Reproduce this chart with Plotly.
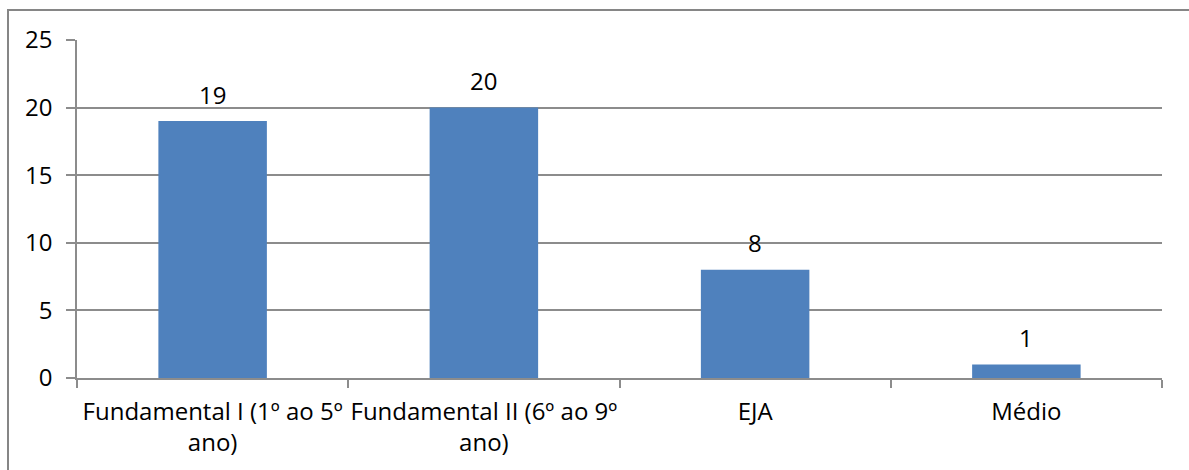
import plotly.graph_objects as go

categories = ["Fundamental I (1º ao 5º<br>ano)", "Fundamental II (6º ao 9º<br>ano)", "EJA", "Médio"]
values = [19, 20, 8, 1]
y_ticks = [0, 5, 10, 15, 20, 25]

W, H = 1189, 470
L, R, T, B = 77, 27, 40, 92
FONT = "Open Sans"
FS = 24
GRID = "#8c8c8c"

fig = go.Figure(
    go.Bar(
        x=categories,
        y=values,
        marker=dict(color="#4f81bd", line=dict(width=0)),
        width=0.4,
        hoverinfo="x+y",
    )
)

# value labels floating above each bar
for c, v in zip(categories, values):
    fig.add_annotation(
        x=c, y=v, text=str(v), showarrow=False,
        xref="x", yref="y", yanchor="middle", yshift=27,
        font=dict(family=FONT, size=FS, color="#000000"),
    )

fig.update_layout(
    width=W,
    height=H,
    margin=dict(l=L, r=R, t=T, b=B, autoexpand=False),
    paper_bgcolor="#ffffff",
    plot_bgcolor="#ffffff",
    showlegend=False,
    font=dict(family=FONT, size=FS, color="#000000"),
)

fig.update_xaxes(
    showgrid=False,
    showline=True,
    linecolor=GRID,
    linewidth=1.5,
    ticks="outside",
    tickson="boundaries",
    ticklen=8,
    tickcolor=GRID,
    tickwidth=1.5,
    tickangle=0,
    automargin=False,
    ticklabelstandoff=11,
    tickfont=dict(family=FONT, size=FS),
)

fig.update_yaxes(
    range=[0, 25],
    tickvals=y_ticks,
    showgrid=True,
    gridcolor=GRID,
    gridwidth=1.5,
    showline=True,
    linecolor=GRID,
    linewidth=1.5,
    ticks="outside",
    ticklen=9,
    tickcolor=GRID,
    tickwidth=1.5,
    automargin=False,
    ticklabelstandoff=9,
    tickfont=dict(family=FONT, size=FS),
    zeroline=False,
)

# outer chart frame
pw, ph = W - L - R, H - T - B
fig.add_shape(
    type="rect",
    xref="paper", yref="paper",
    x0=(8 - L) / pw,
    x1=(W + 5 - L) / pw,
    y0=-(B + 5) / ph,
    y1=1 + (T - 10) / ph,
    line=dict(color="#868686", width=2),
    fillcolor="rgba(0,0,0,0)",
    layer="below",
)

fig.write_html("out.html")
